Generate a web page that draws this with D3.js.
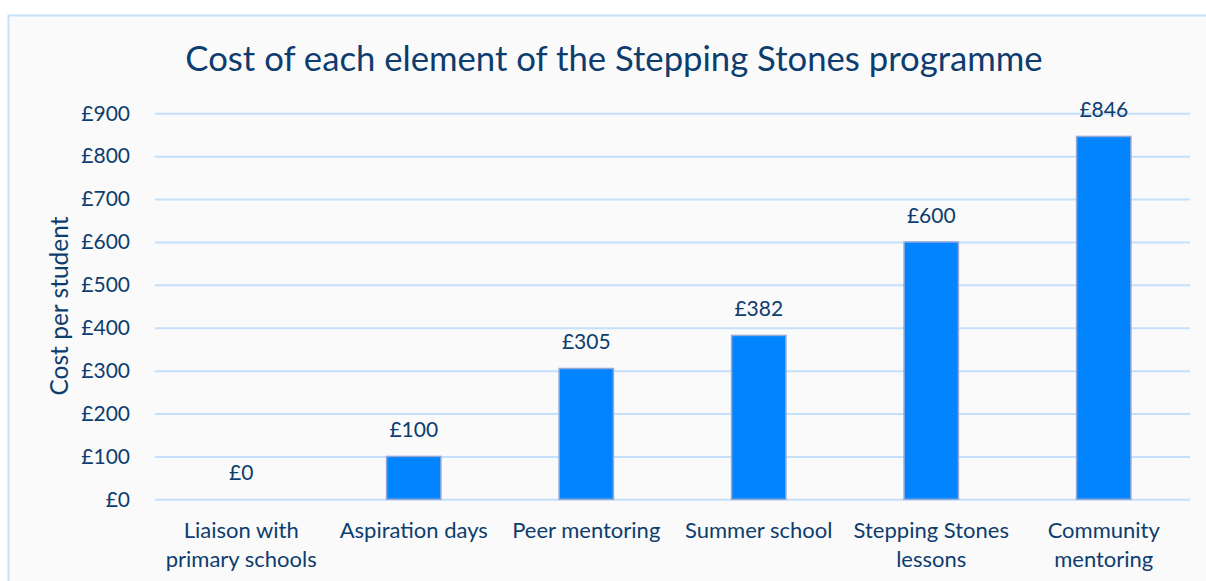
<!DOCTYPE html>
<html><head><meta charset="utf-8">
<script src="https://cdn.jsdelivr.net/npm/d3@7"></script>
<style>
html,body{margin:0;padding:0;background:#fff;}
svg{display:block;}
text{font-family:Lato,"Open Sans",sans-serif;fill:#0d3d6e;}
</style></head>
<body>
<svg id="c" width="1206" height="581"></svg>
<script>
const categories = [["Liaison with","primary schools"],["Aspiration days"],["Peer mentoring"],["Summer school"],["Stepping Stones","lessons"],["Community","mentoring"]];
const values = [0, 100, 305, 382, 600, 846];
const yTicks = [0,100,200,300,400,500,600,700,800,900];
const title = "Cost of each element of the Stepping Stones programme";
const yTitle = "Cost per student";

const svg = d3.select("#c");
svg.append("rect").attr("x",8.5).attr("y",15.5).attr("width",1300).attr("height",700)
  .attr("fill","#fafafa").attr("stroke","#c5e0fa").attr("stroke-width",2);

const m = {left:155, right:1190, top:113.3, bottom:499.3};
const x = d3.scaleBand().domain(d3.range(values.length)).range([m.left,m.right]).paddingInner(0.685).paddingOuter(0.3425);
const y = d3.scaleLinear().domain([0,900]).range([m.bottom,m.top]);

const yAxis = d3.axisLeft(y).tickValues(yTicks).tickSize(-(m.right-m.left)).tickFormat(d=>"£"+d).tickPadding(25);
const gy = svg.append("g").attr("transform",`translate(${m.left},0)`).call(yAxis);
gy.select(".domain").remove();
gy.selectAll(".tick line").attr("stroke","#c5e0fa").attr("stroke-width",2);
gy.selectAll(".tick text").attr("font-size",21).style("fill","#0d3d6e").attr("font-family","Lato");

svg.append("g").selectAll("rect").data(values).join("rect")
  .attr("x",(d,i)=>x(i)).attr("width",x.bandwidth())
  .attr("y",d=>y(d)).attr("height",d=>y(0)-y(d))
  .attr("fill","#0084ff").attr("stroke","#94a8d6").attr("stroke-width",1.5);

svg.append("g").selectAll("text").data(values).join("text")
  .attr("x",(d,i)=>x(i)+x.bandwidth()/2).attr("y",d=>y(d)-19)
  .attr("text-anchor","middle").attr("font-size",21).text(d=>"£"+d);

const xl = svg.append("g").selectAll("text").data(categories).join("text")
  .attr("x",(d,i)=>x(i)+x.bandwidth()/2).attr("y",538)
  .attr("text-anchor","middle").attr("font-size",22);
xl.each(function(d){
  const t=d3.select(this);
  d.forEach((line,j)=>t.append("tspan").attr("x",t.attr("x")).attr("dy",j?29:0).text(line));
});

svg.append("text").attr("x",614).attr("y",71).attr("text-anchor","middle").attr("font-size",34.7).text(title);
svg.append("text").attr("transform","translate(68,306) rotate(-90)").attr("text-anchor","middle").attr("font-size",24.5).text(yTitle);
</script>
</body></html>
